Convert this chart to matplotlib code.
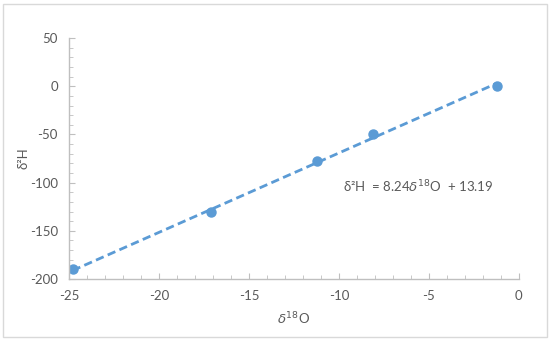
import matplotlib.pyplot as plt

# isotope data
d18o = [-24.8, -17.1, -11.2, -8.1, -1.2]
d2h = [-190, -130, -78, -50, 0]

# trendline from the equation shown on the chart
slope = 8.24
intercept = 13.19

x_ticks = [-25, -20, -15, -10, -5, 0]
y_ticks = [-200, -150, -100, -50, 0, 50]

blue = "#5B9BD5"
grey_txt = "#595959"
grey_ax = "#BFBFBF"

plt.rcParams["font.family"] = ["Lato", "DejaVu Sans"]
plt.rcParams["mathtext.fontset"] = "dejavusans"
plt.rcParams["axes.unicode_minus"] = False

fig = plt.figure(figsize=(5.5, 3.43), dpi=100)
ax = fig.add_axes([0.1255, 0.1866, 0.818, 0.7024])

# chart area border
fig.patches.append(plt.Rectangle((0.006, 0.017), 0.988, 0.97, transform=fig.transFigure,
                                 fill=False, edgecolor="#D9D9D9", linewidth=1))

x_fit = [min(d18o), max(d18o)]
y_fit = [slope * x + intercept for x in x_fit]
ax.plot(x_fit, y_fit, linestyle=(0, (3, 1.6)), color=blue, linewidth=2)
ax.plot(d18o, d2h, "o", color=blue, markersize=6.5)

ax.set_xlim(-25, 0)
ax.set_ylim(-200, 50)
ax.set_xticks(x_ticks)
ax.set_yticks(y_ticks)
ax.set_xticks(range(-25, 1), minor=True)
ax.set_yticks(range(-200, 51, 10), minor=True)

for s in ["top", "right"]:
    ax.spines[s].set_visible(False)
for s in ["left", "bottom"]:
    ax.spines[s].set_color(grey_ax)
    ax.spines[s].set_linewidth(1)

ax.tick_params(which="both", direction="in", color=grey_ax, labelcolor=grey_txt, labelsize=9.5)
ax.tick_params(which="major", length=4, pad=8)
ax.tick_params(which="minor", length=3)

ax.set_xlabel(r"$\delta^{18}$O", color=grey_txt, fontsize=9.5, labelpad=6)
ax.set_ylabel("δ²H", color=grey_txt, fontsize=9.5)
ax.yaxis.set_label_coords(-0.087, 0.5)

ax.text(-9.8, -104, "δ²H  = 8.24" + r"$\delta^{18}$" + "O  + 13.19",
        color=grey_txt, fontsize=9.5, va="center")

fig.savefig("out.png", dpi=100)
